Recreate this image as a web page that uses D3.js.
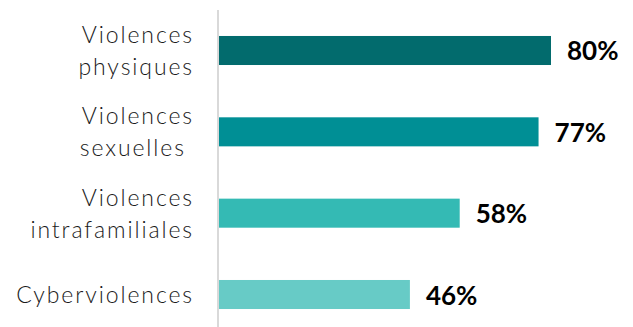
<!DOCTYPE html>
<html><head><meta charset="utf-8">
<script src="https://cdn.jsdelivr.net/npm/d3@7"></script>
<style>html,body{margin:0;padding:0;background:#fff;}</style>
</head><body>
<script>
const categories = [["Violences","physiques"],["Violences","sexuelles "],["Violences","intrafamiliales"],["Cyberviolences"]];
const values = [80, 77, 58, 46];
const valueLabels = ["80%","77%","58%","46%"];
const colors = ["#026B6D","#008F95","#34BAB4","#67CBC6"];

const W = 633, H = 327;
const svg = d3.select("body").append("svg").attr("width", W).attr("height", H);
const x = d3.scaleLinear().domain([0, 100]).range([219, 634]);
const y = d3.scaleBand().domain(d3.range(categories.length)).range([9.83, 335.17]).paddingInner(0.643).paddingOuter(0.3215);

svg.append("line").attr("x1", 218).attr("x2", 218).attr("y1", 10).attr("y2", H)
  .attr("stroke", "#d9d9d9").attr("stroke-width", 2);

svg.selectAll("rect.bar").data(values).join("rect").attr("class","bar")
  .attr("x", x(0)).attr("y", (d,i)=>y(i)).attr("width", d=>x(d)-x(0)).attr("height", y.bandwidth())
  .attr("fill", (d,i)=>colors[i]);

svg.selectAll("text.val").data(values).join("text").attr("class","val")
  .attr("x", d=>x(d)+16).attr("y", (d,i)=>y(i)+y.bandwidth()/2+10)
  .attr("font-family","Lato, sans-serif").attr("font-weight",700).attr("font-size",26)
  .attr("fill","#000").text((d,i)=>valueLabels[i]);

const g = svg.selectAll("text.cat").data(categories).join("text").attr("class","cat")
  .attr("text-anchor","end").attr("font-family","Lato, sans-serif").attr("font-weight",300)
  .attr("font-size",23).attr("letter-spacing",1.9).attr("fill","#1a1a1a").style("white-space","pre");
g.each(function(lines, i){
  const c = y(i)+y.bandwidth()/2;
  const t = d3.select(this);
  const n = lines.length;
  lines.forEach((l, k)=>{
    t.append("tspan").attr("x",194).attr("y", c + 8.5 + (k-(n-1)/2)*32).text(l);
  });
});
</script>
</body></html>
